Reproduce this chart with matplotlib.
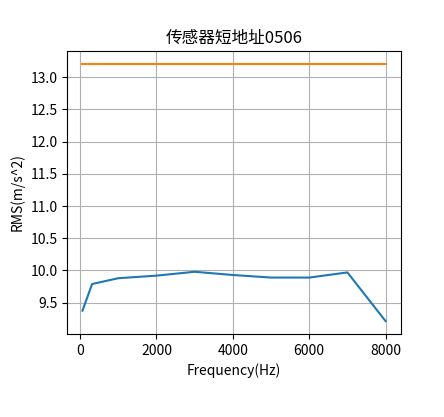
import matplotlib
matplotlib.use("Agg")
import matplotlib.pyplot as plt

plt.rcParams['font.family'] = ['Noto Sans CJK SC', 'DejaVu Sans']
plt.rcParams['axes.unicode_minus'] = False

# 频率点与对应RMS值
freq = [63, 315, 1000, 2000, 3000, 4000, 5000, 6000, 7000, 8000]
rms = [9.376, 9.79, 9.88, 9.92, 9.98, 9.93, 9.89, 9.89, 9.97, 9.214]
# 阈值线
threshold = [13.21] * len(freq)

fig = plt.figure(figsize=(4.44, 4.17), dpi=100)
ax = fig.add_axes([0.1516, 0.199, 0.751, 0.6794])

ax.plot(freq, rms)
ax.plot(freq, threshold)

ax.set_title('传感器短地址0506')
ax.set_xlabel('Frequency(Hz)')
ax.set_ylabel('RMS(m/s^2)')
ax.grid(True)

fig.savefig('out.png', dpi=100)
